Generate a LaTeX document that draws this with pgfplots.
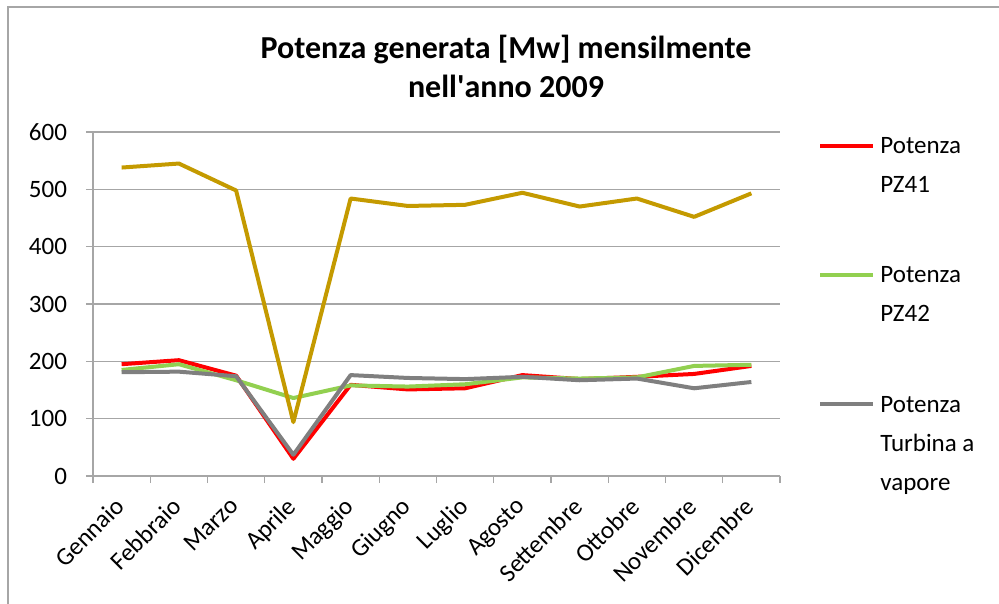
\documentclass[border=0pt]{standalone}
\usepackage{fontspec}
\setmainfont{Carlito}
\usepackage{pgfplots}
\pgfplotsset{compat=1.18}

\definecolor{pz41}{HTML}{FF0000}
\definecolor{pz42}{HTML}{92D050}
\definecolor{turb}{HTML}{7F7F7F}
\definecolor{tot}{HTML}{C49A00}
\definecolor{gridc}{HTML}{A6A6A6}

% legend text: top-aligned box, 19.5bp line pitch
\newcommand{\legtxt}[1]{\parbox[t]{60bp}{\fontsize{12.5bp}{19.5bp}\selectfont\strut #1\strut}}

\begin{document}
\begin{tikzpicture}
\begin{axis}[
    name=ax,
    scale only axis,
    width=343.5bp, height=172bp,
    xmin=-0.5, xmax=11.5,
    ymin=0, ymax=600,
    ytick={0,100,...,600},
    xtick={-0.5,0.5,...,11.5},
    xticklabels={},
    extra x ticks={0,1,...,11},
    extra x tick labels={Gennaio,Febbraio,Marzo,Aprile,Maggio,Giugno,Luglio,Agosto,Settembre,Ottobre,Novembre,Dicembre},
    extra x tick style={major tick length=0pt,
        xticklabel style={xshift=-4bp, yshift=-5bp, rotate=45, anchor=north east}},
    axis x line=bottom, axis y line=left,
    axis line style={gridc, line width=0.6bp, -},
    tick style={gridc, line width=0.6bp},
    tick align=outside,
    major tick length=3.5bp,
    ymajorgrids,
    grid style={gridc, line width=0.6bp},
    tick label style={font=\fontsize{12.5bp}{15bp}\selectfont},
    /pgf/number format/assume math mode=true,
    yticklabel style={xshift=-6bp},
    legend style={at={(1,1)}, anchor=north west, xshift=19bp, yshift=3bp,
        draw=none, fill=none, inner sep=0pt, row sep=49.5bp, column sep=2.5bp,
        cells={anchor=base west},
        nodes={inner sep=0pt}},
    legend image code/.code={\draw[#1, line width=2bp] (0bp,4bp) -- (26.5bp,4bp);},
    every axis plot/.append style={line width=2bp, line join=round},
]
\addplot[pz41] coordinates {
    (0,195) (1,202) (2,175) (3,30) (4,159) (5,151)
    (6,153) (7,176) (8,169) (9,173) (10,178) (11,192)};
\addlegendentry{\legtxt{Potenza\\PZ41}}
\addplot[pz42] coordinates {
    (0,185) (1,195) (2,167) (3,136) (4,158) (5,156)
    (6,160) (7,172) (8,170) (9,172) (10,192) (11,194)};
\addlegendentry{\legtxt{Potenza\\PZ42}}
\addplot[turb] coordinates {
    (0,181) (1,182) (2,174) (3,37) (4,176) (5,171)
    (6,169) (7,173) (8,167) (9,170) (10,153) (11,164)};
\addlegendentry{\legtxt{Potenza\\Turbina a\\vapore}}
\addplot[tot, forget plot] coordinates {
    (0,538) (1,545) (2,498) (3,94) (4,484) (5,471)
    (6,473) (7,494) (8,470) (9,484) (10,452) (11,493)};
\end{axis}
\pgfresetboundingbox
\path[use as bounding box] ([shift={(-46.5bp,-64bp)}]ax.south west) rectangle ++(499.5bp,302bp);
\draw[gridc, line width=0.8bp] ([shift={(-42.5bp,-70bp)}]ax.south west) |- ++(500bp,304.5bp);
\node[anchor=base, font=\bfseries\fontsize{16bp}{19bp}\selectfont]
    at ([shift={(206.5bp,208.5bp)}]ax.south west) {Potenza generata [Mw] mensilmente};
\node[anchor=base, font=\bfseries\fontsize{16bp}{19bp}\selectfont]
    at ([shift={(206.5bp,189bp)}]ax.south west) {nell\textquotesingle anno 2009};
\end{tikzpicture}
\end{document}
